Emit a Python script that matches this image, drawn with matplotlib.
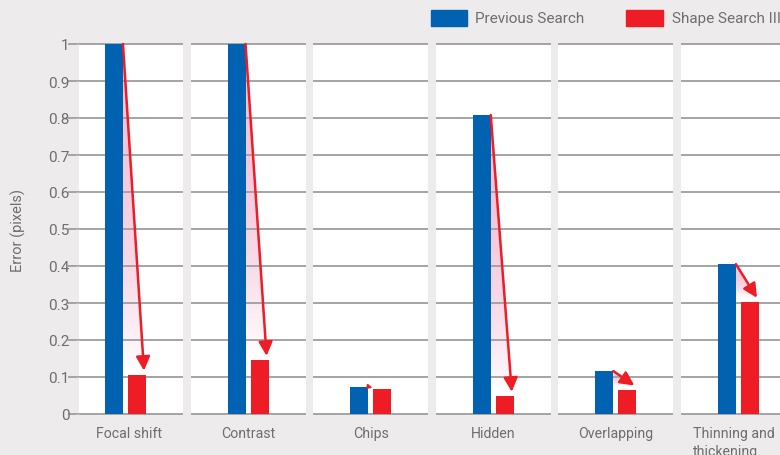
import numpy as np
import matplotlib
matplotlib.use("Agg")
import matplotlib.pyplot as plt
from matplotlib.patches import Rectangle, Polygon
from matplotlib.transforms import blended_transform_factory

# ---- data ----
categories = ["Focal shift", "Contrast", "Chips", "Hidden", "Overlapping", "Thinning and\nthickening"]
previous = [1.0, 1.0, 0.074, 0.808, 0.116, 0.405]
shape3 = [0.106, 0.146, 0.068, 0.049, 0.066, 0.303]
yticks = [0, 0.1, 0.2, 0.3, 0.4, 0.5, 0.6, 0.7, 0.8, 0.9, 1]
ytick_labels = ["0", "0.1", "0.2", "0.3", "0.4", "0.5", "0.6", "0.7", "0.8", "0.9", "1"]

BG = "#edebeb"; BLUE = "#0062b0"; RED = "#ee1c25"; GRID = "#a4a4a4"; TXT = "#6e6e6e"
PINK = (0.93, 0.62, 0.76)
FONT = ["Liberation Sans Narrow", "Roboto", "DejaVu Sans"]
plt.rcParams["font.family"] = FONT

fig = plt.figure(figsize=(7.8, 4.56), dpi=100, facecolor=BG)
ax = fig.add_axes([79/780, 41/456, 701/780, 370/456])
ax.set_facecolor(BG)
for sp in ax.spines.values(): sp.set_visible(False)

HALF = 0.469   # half panel width
BW = 0.147     # bar width
OFF = 0.094    # bar centre offset
PX_X, PX_Y = 122.6, 370.0   # pixels per data unit

for i in range(len(categories)):
    ax.axvspan(i-HALF, i+HALF, color="white", zorder=0, lw=0)
    ax.hlines(yticks, i-HALF, i+HALF, color=GRID, lw=1.4, zorder=1, clip_on=False)

x = np.arange(len(categories))
ax.bar(x-OFF, previous, BW, color=BLUE, zorder=3)
ax.bar(x+OFF, shape3, BW, color=RED, zorder=3)

# gradient wedge + arrow from previous to new
for i, (p, s) in enumerate(zip(previous, shape3)):
    x0 = i - OFF + BW/2
    ty = min(s + 0.011, p - 0.003)
    tx = i + OFF + 0.057
    if p - s < 0.02:
        tx = x0 + 0.035
    poly = Polygon([(x0, p), (tx, ty), (x0, ty)], closed=True, transform=ax.transData)
    t = np.linspace(0, 1, 256)
    grad = np.zeros((256, 1, 4))
    grad[..., 0], grad[..., 1], grad[..., 2] = PINK
    grad[:, 0, 3] = 0.62 * (1 - t**2.5)
    im = ax.imshow(grad, extent=[x0, tx, ty, p], aspect="auto", origin="upper", zorder=0.5)
    im.set_clip_path(poly)
    length = np.hypot((tx-x0)*PX_X, (p-ty)*PX_Y)
    ms = min(12, length*0.8)
    ax.annotate("", xy=(tx, ty), xytext=(x0, p),
                arrowprops=dict(arrowstyle="-|>,head_length=0.7,head_width=0.35", color=RED,
                                lw=1.8 if length > 10 else 1.2, shrinkA=0, shrinkB=0,
                                mutation_scale=ms), zorder=4)

ax.set_xlim(-0.379, 5.339)
ax.set_ylim(0, 1)
ax.set_yticks(yticks, ytick_labels)
ax.set_xticks([])
ax.tick_params(axis="y", length=2, width=0.8, color="#bdbdbd", pad=5, labelsize=11, labelcolor=TXT)
ax.set_ylabel("Error (pixels)", color=TXT, fontsize=10.5, labelpad=16)

# category labels under each panel
trans = blended_transform_factory(ax.transData, ax.transAxes)
label_shift = [0.03, 0, 0, 0, 0, -0.04]
for i, cat in enumerate(categories):
    ax.text(i + label_shift[i], -0.032, cat, transform=trans, ha="center", va="top",
            multialignment="left", fontsize=10.2, color=TXT, linespacing=1.35, clip_on=False)

# legend at the top
fig.patches.append(Rectangle((431/780, 1-27/456), 36/780, 16/456, transform=fig.transFigure,
                             color=BLUE, figure=fig))
fig.text(475/780, 1-19/456, "Previous Search", color=TXT, fontsize=11, va="center", ha="left")
fig.patches.append(Rectangle((626/780, 1-27/456), 37/780, 16/456, transform=fig.transFigure,
                             color=RED, figure=fig))
fig.text(672/780, 1-19/456, "Shape Search III", color=TXT, fontsize=11, va="center", ha="left")

fig.savefig("out.png", dpi=100, facecolor=BG)
